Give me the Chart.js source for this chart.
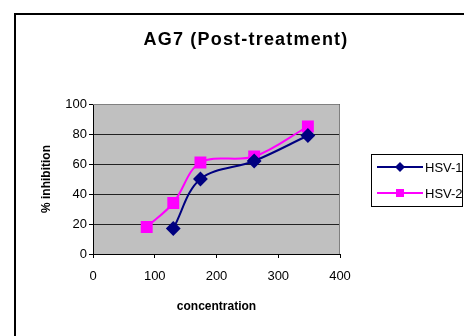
<!DOCTYPE html>
<html>
<head>
<meta charset="utf-8">
<script src="https://cdn.jsdelivr.net/npm/chart.js@4/dist/chart.umd.min.js"></script>
<style>
  html, body { margin: 0; padding: 0; background: #fff; }
  #wrap { width: 464px; height: 336px; position: relative; }
</style>
</head>
<body>
<div id="wrap"><canvas id="chart"></canvas></div>
<script>
// values
const concHsv1 = [130, 174, 261, 348];
const inhibHsv1 = [17, 50, 62, 79];
const concHsv2 = [87, 130, 174, 261, 348];
const inhibHsv2 = [18, 34, 61, 65, 85];
const seriesNames = ['HSV-1', 'HSV-2'];
const chartTitle = 'AG7 (Post-treatment)';

const FONT = '"Liberation Sans", Arial, sans-serif';

const toPoints = (xs, ys) => xs.map((x, i) => ({ x, y: ys[i] }));

// frame, grey plot area, title and boxed legend like the old Excel chart
const excelLook = {
  id: 'excelLook',
  beforeDraw(chart) {
    const { ctx, chartArea: a } = chart;
    ctx.save();
    ctx.fillStyle = '#fff';
    ctx.fillRect(0, 0, chart.width, chart.height);
    ctx.fillStyle = '#c0c0c0';
    ctx.fillRect(a.left, a.top, a.right - a.left, a.bottom - a.top);
    // outer frame (runs off the right and bottom edge)
    ctx.strokeStyle = '#000';
    ctx.lineWidth = 2;
    ctx.beginPath();
    ctx.moveTo(15, chart.height + 5);
    ctx.lineTo(15, 14);
    ctx.lineTo(chart.width + 5, 14);
    ctx.stroke();
    ctx.restore();
  },
  afterDatasetsDraw(chart) {
    const { ctx, chartArea: a } = chart;
    ctx.save();
    ctx.strokeStyle = '#808080';
    ctx.lineWidth = 1;
    ctx.beginPath();
    ctx.moveTo(a.left, a.top + 0.5);
    ctx.lineTo(a.right - 0.5, a.top + 0.5);
    ctx.lineTo(a.right - 0.5, a.bottom);
    ctx.stroke();

    // title
    ctx.fillStyle = '#000';
    ctx.font = 'bold 18px ' + FONT;
    ctx.letterSpacing = '1.2px';
    ctx.textAlign = 'center';
    ctx.textBaseline = 'middle';
    ctx.fillText(chartTitle, 246, 40);
    ctx.letterSpacing = '0px';

    // legend
    const lx = 371, ly = 154, lw = 91, lh = 52;
    ctx.fillStyle = '#fff';
    ctx.fillRect(lx, ly, lw, lh);
    ctx.strokeStyle = '#000';
    ctx.strokeRect(lx + 0.5, ly + 0.5, lw, lh);
    chart.data.datasets.forEach((ds, i) => {
      const y = 167 + i * 26;
      ctx.strokeStyle = ds.borderColor;
      ctx.lineWidth = 2;
      ctx.beginPath();
      ctx.moveTo(377, y);
      ctx.lineTo(423, y);
      ctx.stroke();
      ctx.fillStyle = ds.backgroundColor;
      ctx.beginPath();
      if (ds.pointStyle === 'rectRot') {
        ctx.moveTo(400, y - 5);
        ctx.lineTo(405, y);
        ctx.lineTo(400, y + 5);
        ctx.lineTo(395, y);
        ctx.closePath();
      } else {
        ctx.rect(396, y - 4, 8, 8);
      }
      ctx.fill();
      ctx.fillStyle = '#000';
      ctx.font = '13px ' + FONT;
      ctx.textAlign = 'left';
      ctx.textBaseline = 'middle';
      ctx.fillText(ds.label, 425, y + 1);
    });
    ctx.restore();
  },
};

const config = {
  type: 'scatter',
  plugins: [excelLook],
  data: {
    datasets: [
      {
        label: seriesNames[0],
        data: toPoints(concHsv1, inhibHsv1),
        showLine: true,
        borderColor: '#000080',
        backgroundColor: '#000080',
        borderWidth: 2,
        pointStyle: 'rectRot',
        pointRadius: 6,
        pointHoverRadius: 6,
        tension: 0.35,
      },
      {
        label: seriesNames[1],
        data: toPoints(concHsv2, inhibHsv2),
        showLine: true,
        borderColor: '#ff00ff',
        backgroundColor: '#ff00ff',
        borderWidth: 2,
        pointStyle: 'rect',
        pointRadius: 7,
        pointHoverRadius: 7,
        tension: 0.35,
      },
    ],
  },
  options: {
    responsive: false,
    animation: false,
    devicePixelRatio: 1,
    layout: { padding: { left: 0, top: 104, right: 124, bottom: 0 } },
    plugins: {
      legend: { display: false },
      title: { display: false },
      tooltip: { enabled: false },
    },
    scales: {
      x: {
        type: 'linear',
        min: 0,
        max: 400,
        afterFit: (scale) => { scale.height = 82; },
        ticks: { stepSize: 100, padding: 11, color: '#000', font: { family: FONT, size: 13 } },
        grid: { display: true, drawOnChartArea: false, tickLength: 4, tickColor: '#000' },
        border: { color: '#000', width: 1 },
        title: {
          display: true,
          text: 'concentration',
          color: '#000',
          font: { family: FONT, size: 12, weight: 'bold' },
          padding: { top: 0, bottom: 22 },
        },
      },
      y: {
        min: 0,
        max: 100,
        afterFit: (scale) => { scale.width = 93; },
        ticks: { stepSize: 20, padding: 2, color: '#000', font: { family: FONT, size: 13 } },
        grid: { color: '#222', lineWidth: 1, tickLength: 4, tickColor: '#000' },
        border: { color: '#000', width: 1 },
        title: {
          display: true,
          text: '% inhibition',
          color: '#000',
          font: { family: FONT, size: 12, weight: 'bold' },
          padding: { top: 39, bottom: 0 },
        },
      },
    },
  },
};

const canvas = document.getElementById('chart');
canvas.width = 464;
canvas.height = 336;
new Chart(canvas, config);
</script>
</body>
</html>
